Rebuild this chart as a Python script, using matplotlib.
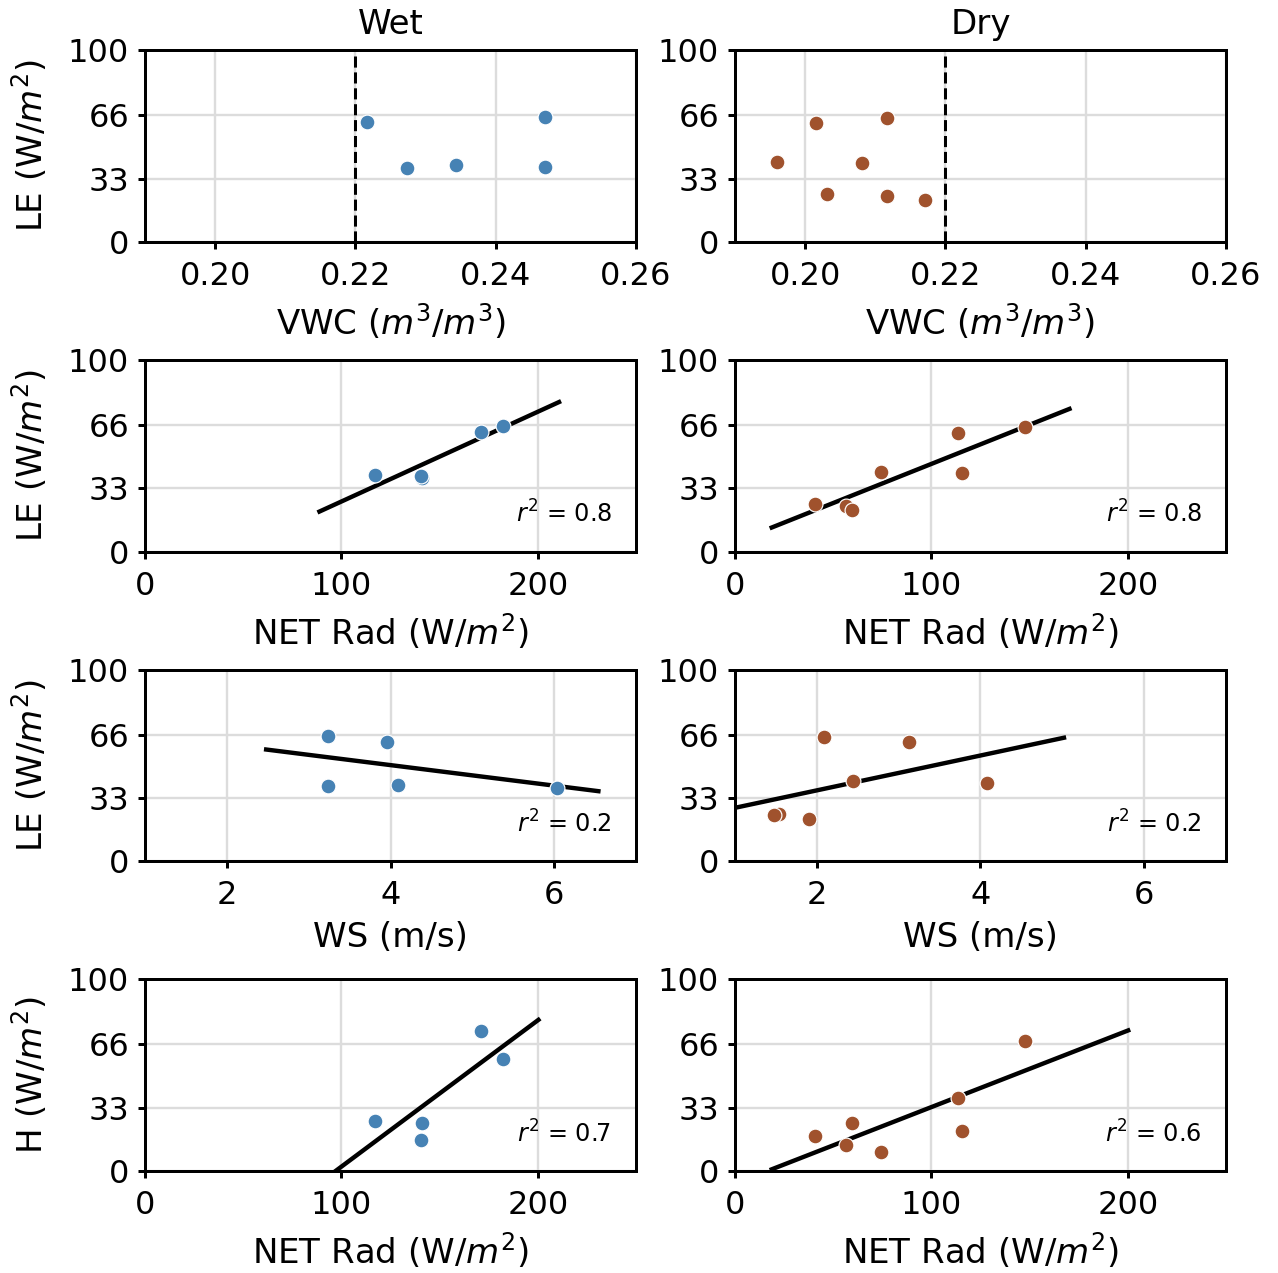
import matplotlib
matplotlib.use("Agg")
import matplotlib.pyplot as plt
import numpy as np

# ---- data ----
wet_vwc = [0.2343, 0.2273, 0.2470, 0.2216, 0.2470]
wet_netrad = [117.1, 140.9, 140.5, 171.0, 182.1]
wet_ws = [4.09, 6.04, 3.24, 3.96, 3.24]
wet_le = [40.0, 38.4, 39.2, 62.3, 65.3]
wet_h = [26.3, 25.2, 16.2, 73.1, 58.4]

dry_vwc = [0.2031, 0.2116, 0.2171, 0.1960, 0.2016, 0.2081, 0.2116]
dry_netrad = [40.7, 56.3, 59.7, 74.5, 113.6, 115.7, 147.6]
dry_ws = [1.54, 1.48, 1.91, 2.44, 3.13, 4.08, 2.09]
dry_le = [24.7, 24.0, 21.8, 41.7, 62.0, 41.0, 64.7]
dry_h = [18.3, 13.6, 24.9, 10.1, 38.3, 20.9, 67.6]

vwc_threshold = 0.22

# regression lines: (slope, intercept, x_start, x_end, r2)
wet_fit_le_rad = (0.468, -20.7, 88.8, 210.8, 0.8)
dry_fit_le_rad = (0.408, 4.9, 18.7, 170.3, 0.8)
wet_fit_le_ws = (-5.35, 71.55, 2.48, 6.54, 0.2)
dry_fit_le_ws = (9.09, 18.8, 0.5, 5.02, 0.2)
wet_fit_h_rad = (0.763, -74.0, 88.8, 200.3, 0.7)
dry_fit_h_rad = (0.399, -6.56, 18.7, 200.2, 0.6)

site_titles = ["Wet", "Dry"]
site_colors = ["steelblue", "sienna"]

plt.rcParams["font.size"] = 16
plt.rcParams["axes.linewidth"] = 1.5
plt.rcParams["xtick.major.width"] = 1.5
plt.rcParams["ytick.major.width"] = 1.5
plt.rcParams["xtick.major.pad"] = 6
plt.rcParams["ytick.major.pad"] = 4.5

fig, axes = plt.subplots(4, 2, figsize=(1278 / 144, 1273 / 144), dpi=144)
fig.subplots_adjust(left=0.1135, right=0.9593, bottom=0.0801, top=0.9607,
                    wspace=0.2016, hspace=0.615)

wet = dict(vwc=wet_vwc, rad=wet_netrad, ws=wet_ws, le=wet_le, h=wet_h,
           fits=[None, wet_fit_le_rad, wet_fit_le_ws, wet_fit_h_rad])
dry = dict(vwc=dry_vwc, rad=dry_netrad, ws=dry_ws, le=dry_le, h=dry_h,
           fits=[None, dry_fit_le_rad, dry_fit_le_ws, dry_fit_h_rad])

# row settings: x key, y key, xlabel, ylabel, xlim, xticks
rows = [
    ("vwc", "le", "VWC ($m^3/m^3$)", "LE (W/$m^2$)", (0.19, 0.26), [0.20, 0.22, 0.24, 0.26]),
    ("rad", "le", "NET Rad (W/$m^2$)", "LE (W/$m^2$)", (0, 250), [0, 100, 200]),
    ("ws", "le", "WS (m/s)", "LE (W/$m^2$)", (1, 7), [2, 4, 6]),
    ("rad", "h", "NET Rad (W/$m^2$)", "H (W/$m^2$)", (0, 250), [0, 100, 200]),
]

for col, site in enumerate([wet, dry]):
    for r, (xk, yk, xlab, ylab, xlim, xticks) in enumerate(rows):
        ax = axes[r, col]
        ax.set_axisbelow(True)
        ax.grid(True, color="#dcdcdc", lw=1.2)
        ax.scatter(site[xk], site[yk], s=55, color=site_colors[col],
                   edgecolor="white", linewidth=0.6, zorder=3)

        fit = site["fits"][r]
        if fit is not None:
            slope, icpt, x0, x1, r2 = fit
            xs = np.array([x0, x1])
            ax.plot(xs, slope * xs + icpt, color="black", lw=2.2, zorder=2)
            ax.text(0.95, 0.15, f"$r^2$ = {r2}", transform=ax.transAxes,
                    ha="right", va="baseline", fontsize=12)
        else:
            ax.axvline(vwc_threshold, color="black", ls="--", lw=1.5)

        ax.set_xlim(*xlim)
        ax.set_xticks(xticks)
        if xk == "vwc":
            ax.set_xticklabels([f"{t:.2f}" for t in xticks])
        ax.set_ylim(0, 100)
        ax.set_yticks([0, 33, 66, 100])
        ax.set_xlabel(xlab, fontsize=17, labelpad=5)
        if col == 0:
            ax.set_ylabel(ylab, fontsize=17, labelpad=9)
        if r == 0:
            ax.set_title(site_titles[col], fontsize=17, pad=8)

fig.savefig("out.png", dpi=144)
